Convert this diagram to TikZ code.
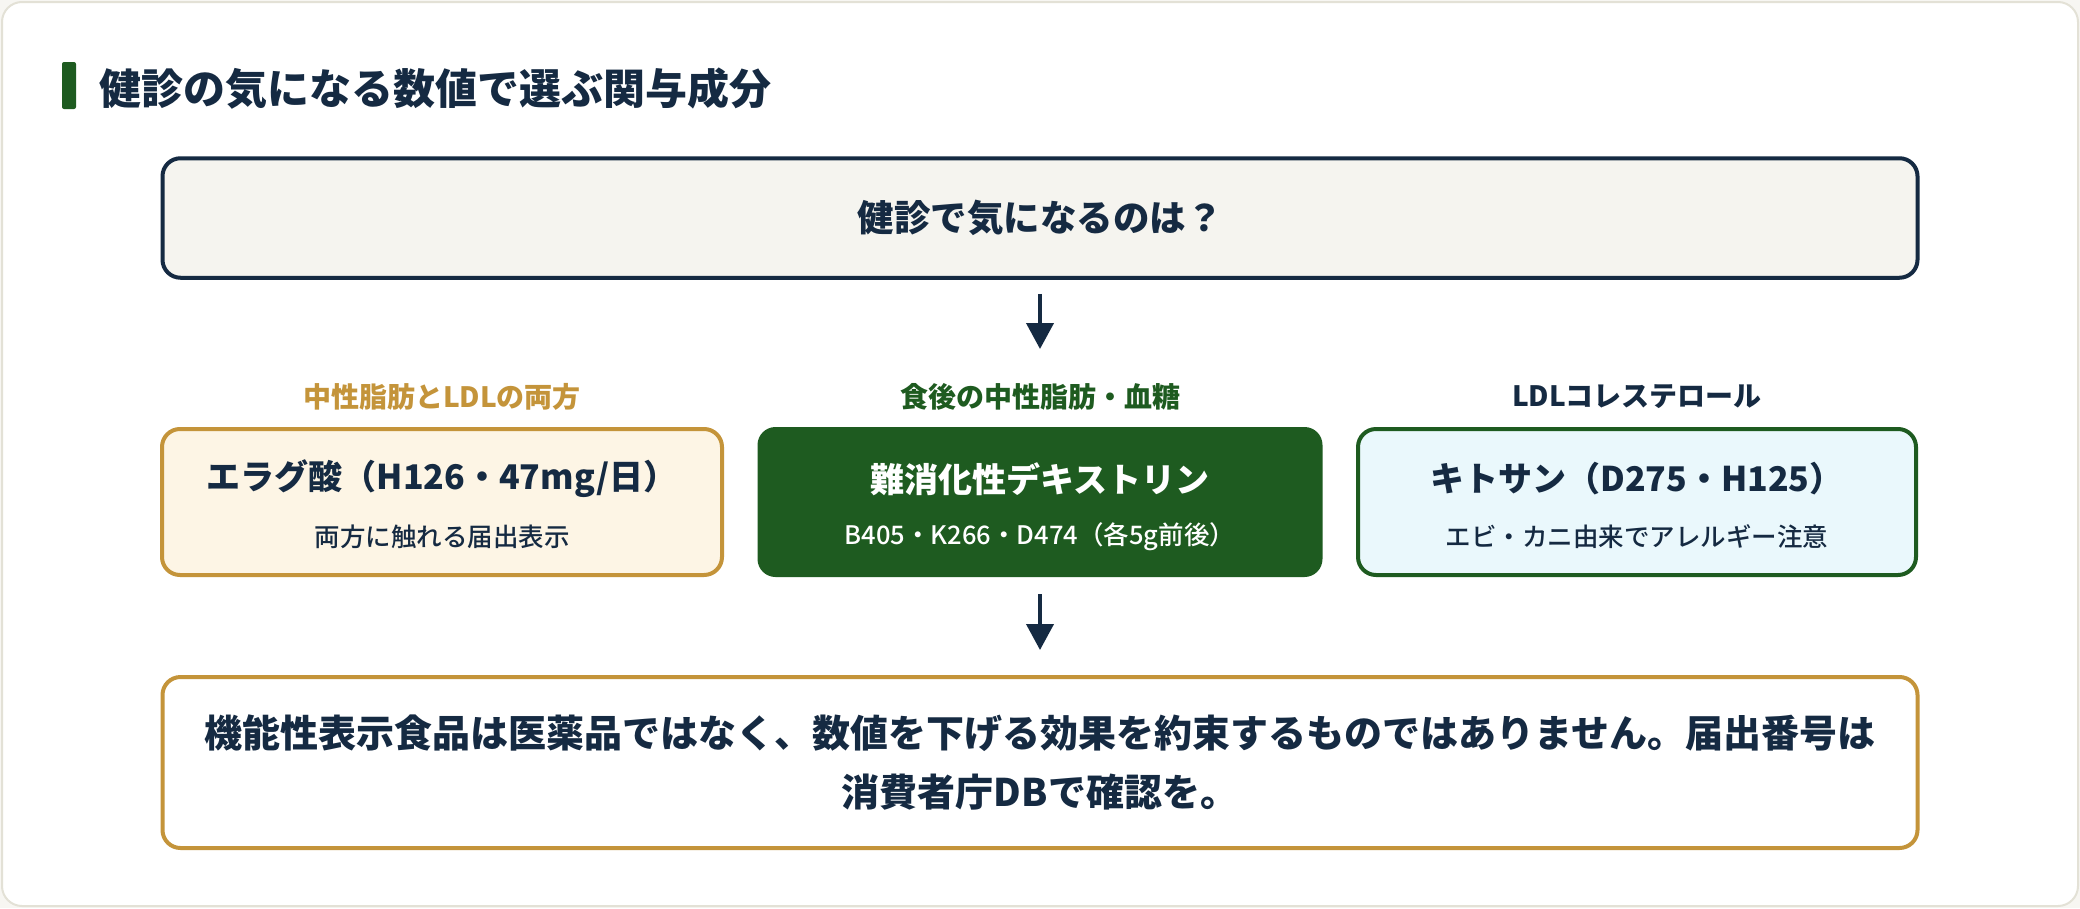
\documentclass[tikz,border=0pt]{standalone}
\usepackage{fontspec}
\setmainfont{Noto Sans CJK JP}
\newfontfamily\medfont{Noto Sans CJK JP Medium}
\usetikzlibrary{arrows.meta}
\definecolor{navy}{HTML}{152A42}
\definecolor{gold}{HTML}{C4943A}
\definecolor{dgreen}{HTML}{1E5B20}
\definecolor{cream}{HTML}{FDF5E5}
\definecolor{lblue}{HTML}{EAF8FC}
\definecolor{topfill}{HTML}{F5F4EF}
\definecolor{cardline}{HTML}{E3E1D6}
\definecolor{pagebg}{HTML}{F7F6F2}
\tikzset{
  box/.style={rectangle, rounded corners=18pt, line width=4pt, inner sep=0pt},
  maintxt/.style={inner sep=0pt, font=\fontsize{34}{40}\selectfont\bfseries, text=navy},
  subtxt/.style={inner sep=0pt, font=\fontsize{25.5}{30}\selectfont\medfont, text=navy},
  lbl/.style={inner sep=0pt, font=\fontsize{28}{33}\selectfont\bfseries},
  arr/.style={draw=navy, line width=4pt, -{Triangle[width=27pt,length=26pt]}}
}
\begin{document}
\begin{tikzpicture}[x=1pt,y=-1pt]
\useasboundingbox (0,0) rectangle (2080,908);
\fill[pagebg] (0,0) rectangle (2080,908);
\draw[cardline, line width=2pt, fill=white, rounded corners=20pt] (2,2) rectangle (2078,906);
% title
\fill[dgreen, rounded corners=2pt] (62,62) rectangle (76,109);
\node[anchor=west, inner sep=0pt, font=\fontsize{42}{50}\selectfont\bfseries, text=navy] (title) at (99,89) {健診の気になる数値で選ぶ関与成分};
% top box
\node[box, draw=navy, fill=topfill, minimum width=1755pt, minimum height=119.5pt, font=\fontsize{36.5}{42}\selectfont\bfseries, text=navy] (top) at (1040,218) {健診で気になるのは？};
% labels
\node[lbl, text=gold] (lblL) at (442,397) {中性脂肪とLDLの両方};
\node[lbl, text=dgreen] (lblM) at (1040,397) {食後の中性脂肪・血糖};
\node[lbl, text=navy] (lblR) at (1637,397) {LDLコレステロール};
% boxes
\node[box, draw=gold, fill=cream, minimum width=560pt, minimum height=146pt] (left) at (442,502) {};
\node[box, fill=dgreen, minimum width=565pt, minimum height=150pt] (mid) at (1040,502) {};
\node[box, draw=dgreen, fill=lblue, minimum width=558pt, minimum height=146pt] (right) at (1637,502) {};
\node[maintxt] (leftA) at (442,479) {エラグ酸（H126・47mg/日）};
\node[subtxt] (leftB) at (442,537) {両方に触れる届出表示};
\node[maintxt, text=white] (midA) at (1040,479) {難消化性デキストリン};
\node[subtxt, text=white] (midB) at (1040,537) {B405・K266・D474（各5g前後）};
\node[maintxt] (rightA) at (1637,479) {キトサン（D275・H125）};
\node[subtxt] (rightB) at (1637,537) {エビ・カニ由来でアレルギー注意};
% bottom
\node[box, draw=gold, fill=white, minimum width=1755pt, minimum height=171pt, align=center, font=\fontsize{38}{59.5}\selectfont\bfseries, text=navy] (bottom) at (1040,762.5) {機能性表示食品は医薬品ではなく、数値を下げる効果を約束するものではありません。届出番号は\\消費者庁DBで確認を。};
% arrows
\draw[arr, shorten <=14pt, shorten >=76pt] (top.south) -- (mid.north);
\draw[arr, shorten <=15pt, shorten >=25pt] (mid.south) -- (bottom.north);
\end{tikzpicture}
\end{document}
